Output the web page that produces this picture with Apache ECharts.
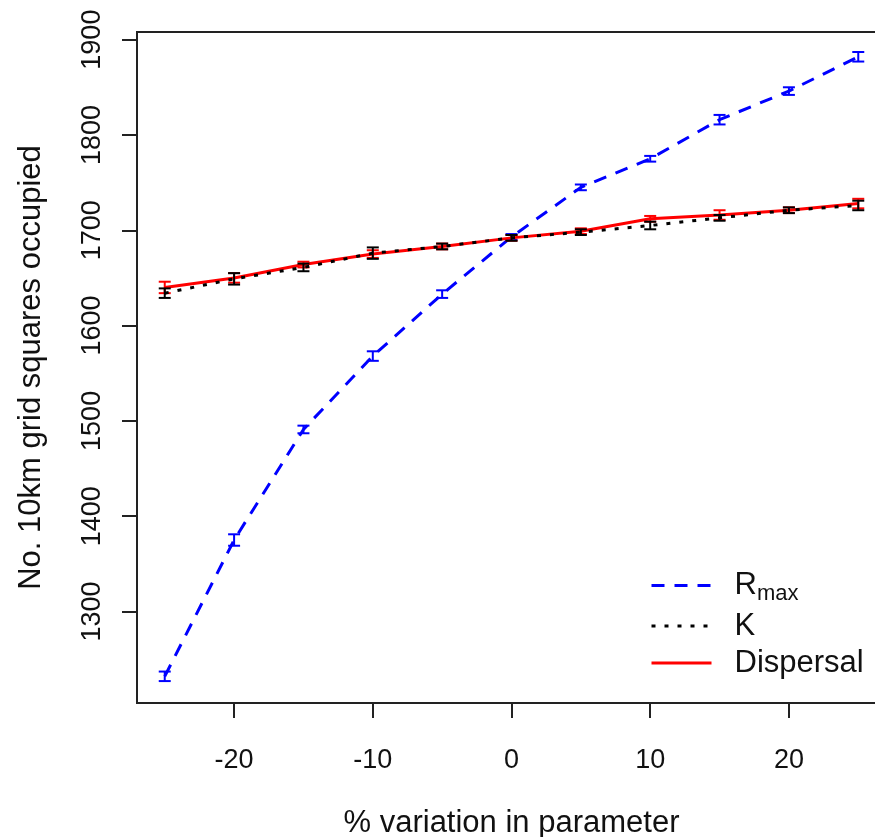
<!DOCTYPE html>
<html>
<head>
<meta charset="utf-8">
<script src="https://cdn.jsdelivr.net/npm/echarts@6/dist/echarts.min.js"></script>
<style>
  html, body { margin: 0; padding: 0; background: #fff; }
  #chart { width: 875px; height: 837px; }
</style>
</head>
<body>
<div id="chart"></div>
<script>
// Percentage change applied to each model parameter
const variation = [-25, -20, -15, -10, -5, 0, 5, 10, 15, 20, 25];

// Mean number of occupied 10 km squares and standard errors per parameter
const rmaxMean = [1232, 1375, 1491, 1568, 1633, 1693, 1745, 1775, 1816, 1846, 1882];
const rmaxErr  = [5, 6, 4, 5, 4, 3, 3, 3, 5, 4, 5];
const kMean    = [1634, 1649, 1661, 1676, 1683, 1692, 1698, 1705, 1713, 1721, 1726];
const kErr     = [5, 6, 4, 6, 3, 3, 3, 4, 3, 3, 5];
const dispMean = [1640, 1650, 1664, 1675, 1683, 1692, 1699, 1712, 1716, 1721, 1728];
const dispErr  = [6, 5, 3, 4, 3, 3, 3, 3, 5, 3, 5];

// Axis tick positions
const xTicks = [-20, -10, 0, 10, 20];
const yTicks = [1300, 1400, 1500, 1600, 1700, 1800, 1900];

const FONT = '"Liberation Sans", Arial, sans-serif';
const INK = '#111';

function lineSeries(name, mean, color, type, z) {
  return {
    name: name,
    type: 'line',
    data: variation.map((x, i) => [x, mean[i]]),
    symbol: 'none',
    silent: true,
    z: z,
    lineStyle: { color: color, width: 3, type: type },
    itemStyle: { color: color }
  };
}

function errorSeries(name, mean, err, color, z) {
  return {
    name: name,
    type: 'custom',
    silent: true,
    z: z,
    data: variation.map((x, i) => [x, mean[i] - err[i], mean[i] + err[i]]),
    encode: { x: 0, y: [1, 2] },
    renderItem: function (params, api) {
      const x = api.value(0);
      const lo = api.coord([x, api.value(1)]);
      const hi = api.coord([x, api.value(2)]);
      const half = 6;
      const style = { stroke: color, lineWidth: 2, fill: null };
      return {
        type: 'group',
        children: [
          { type: 'line', shape: { x1: lo[0], y1: lo[1], x2: hi[0], y2: hi[1] }, style: style },
          { type: 'line', shape: { x1: lo[0] - half, y1: lo[1], x2: lo[0] + half, y2: lo[1] }, style: style },
          { type: 'line', shape: { x1: hi[0] - half, y1: hi[1], x2: hi[0] + half, y2: hi[1] }, style: style }
        ]
      };
    }
  };
}

const chart = echarts.init(document.getElementById('chart'), null, { renderer: 'canvas' });

chart.setOption({
  animation: false,
  backgroundColor: '#fff',
  textStyle: { fontFamily: FONT, color: INK },
  grid: {
    left: 137, top: 32, width: 749, height: 671,
    outerBoundsMode: 'none',
    containLabel: false,
    show: true, borderColor: '#222', borderWidth: 2, backgroundColor: 'transparent'
  },
  xAxis: {
    type: 'value',
    min: -27, max: 27,
    axisLine: { show: false, onZero: false },
    splitLine: { show: false },
    axisTick: { show: true, inside: false, length: 15, customValues: xTicks,
                lineStyle: { color: '#222', width: 2 } },
    axisLabel: { customValues: xTicks, margin: 44, fontSize: 27, color: INK, fontFamily: FONT,
                 formatter: v => String(v) },
    name: '% variation in parameter',
    nameLocation: 'middle',
    nameGap: 105,
    nameTextStyle: { fontSize: 31, color: INK, fontFamily: FONT }
  },
  yAxis: {
    type: 'value',
    min: 1204, max: 1908,
    axisLine: { show: false, onZero: false },
    splitLine: { show: false },
    axisTick: { show: true, inside: false, length: 15, customValues: yTicks,
                lineStyle: { color: '#222', width: 2 } },
    axisLabel: { customValues: yTicks, rotate: 90, margin: 31, fontSize: 27, color: INK, fontFamily: FONT,
                 formatter: v => String(v) },
    name: 'No. 10km grid squares occupied',
    nameLocation: 'middle',
    nameGap: 90,
    nameTextStyle: { fontSize: 31, color: INK, fontFamily: FONT }
  },
  legend: {
    orient: 'vertical',
    left: 645, top: 565,
    itemWidth: 60, itemHeight: 14, itemGap: 6,
    selectedMode: false,
    itemStyle: { opacity: 0 },
    lineStyle: { width: 3 },
    data: ['Rmax', 'K', 'Dispersal'],
    formatter: function (name) {
      return name === 'Rmax' ? '{r|R}{sub|max}' : '{r|' + name + '}';
    },
    textStyle: {
      fontFamily: FONT, color: INK, padding: [0, 0, 0, 18],
      rich: {
        r: { fontSize: 31, fontFamily: FONT, color: INK, lineHeight: 34 },
        sub: { fontSize: 22, fontFamily: FONT, color: INK, verticalAlign: 'top', padding: [16, 0, 0, 0] }
      }
    }
  },
  series: [
    lineSeries('Rmax', rmaxMean, '#0000ff', [13, 10], 2),
    errorSeries('Rmax error', rmaxMean, rmaxErr, '#0000ff', 3),
    lineSeries('Dispersal', dispMean, '#ff0000', 'solid', 4),
    errorSeries('Dispersal error', dispMean, dispErr, '#ff0000', 5),
    lineSeries('K', kMean, '#000000', [4, 9], 6),
    errorSeries('K error', kMean, kErr, '#000000', 7)
  ]
});
</script>
</body>
</html>
